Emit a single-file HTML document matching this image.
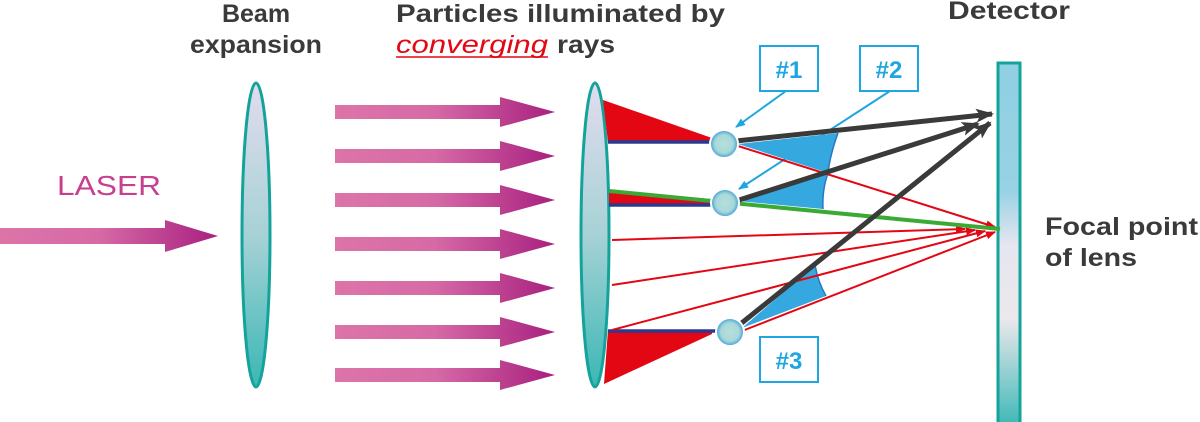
<!DOCTYPE html>
<html><head><meta charset="utf-8"><style>
html,body{margin:0;padding:0;background:#fff;}
svg{display:block;}
text{font-family:"Liberation Sans",sans-serif;font-weight:bold;}
</style></head><body>
<svg width="1200" height="422" viewBox="0 0 1200 422" xmlns="http://www.w3.org/2000/svg">
<defs>
<linearGradient id="pink" x1="0" y1="0" x2="1" y2="0">
<stop offset="0" stop-color="#dc74a8"/><stop offset="0.45" stop-color="#d66aa6"/><stop offset="1" stop-color="#a8207f"/>
</linearGradient>
<linearGradient id="lens" x1="0" y1="0" x2="0" y2="1">
<stop offset="0" stop-color="#e2dcee"/><stop offset="0.5" stop-color="#a6d2d6"/><stop offset="1" stop-color="#3ab7b5"/>
</linearGradient>
<linearGradient id="det" x1="0" y1="0" x2="0" y2="1">
<stop offset="0" stop-color="#8fd0e2"/><stop offset="0.35" stop-color="#98d2e4"/><stop offset="0.5" stop-color="#e6e6f0"/><stop offset="0.7" stop-color="#ece8ec"/><stop offset="1" stop-color="#3ab7b5"/>
</linearGradient>
<radialGradient id="pt" cx="0.5" cy="0.5" r="0.5">
<stop offset="0" stop-color="#b5e0dc"/><stop offset="0.65" stop-color="#a8d8d8"/><stop offset="1" stop-color="#3aa0dc"/>
</radialGradient>
<marker id="ar" markerWidth="10" markerHeight="8" refX="9" refY="4" orient="auto" markerUnits="userSpaceOnUse"><path d="M0,0 L10,4 L0,8 Z" fill="#e30613"/></marker>
<marker id="ag" markerWidth="18" markerHeight="14" refX="16" refY="7" orient="auto" markerUnits="userSpaceOnUse"><path d="M0,0 L18,7 L0,14 L4,7 Z" fill="#3a3a3a"/></marker>
<marker id="ab" markerWidth="10" markerHeight="8" refX="9" refY="4" orient="auto" markerUnits="userSpaceOnUse"><path d="M0,0 L10,4 L0,8 Z" fill="#1ea6e0"/></marker>
</defs>

<!-- titles -->
<text x="256" y="22" font-size="25" fill="#3a3a3a" text-anchor="middle">Beam</text>
<text x="256" y="53" font-size="25" fill="#3a3a3a" text-anchor="middle" textLength="132" lengthAdjust="spacingAndGlyphs">expansion</text>
<text x="396" y="22" font-size="25" fill="#3a3a3a" textLength="329" lengthAdjust="spacingAndGlyphs">Particles illuminated by</text>
<text x="396" y="53" font-size="25" fill="#e30613" font-style="italic" textLength="152" lengthAdjust="spacingAndGlyphs" style="font-weight:normal">converging</text>
<line x1="396" y1="57" x2="548" y2="57" stroke="#e30613" stroke-width="1.5"/>
<text x="557" y="53" font-size="25" fill="#3a3a3a" textLength="58" lengthAdjust="spacingAndGlyphs">rays</text>
<text x="948" y="19" font-size="25" fill="#3a3a3a" textLength="122" lengthAdjust="spacingAndGlyphs">Detector</text>
<text x="1045" y="235" font-size="25" fill="#3a3a3a" textLength="153" lengthAdjust="spacingAndGlyphs">Focal point</text>
<text x="1045" y="266" font-size="25" fill="#3a3a3a" textLength="92" lengthAdjust="spacingAndGlyphs">of lens</text>
<text x="57" y="195" font-size="28" fill="#c83f8f" textLength="104" lengthAdjust="spacingAndGlyphs" style="font-weight:normal">LASER</text>

<!-- laser arrow -->
<polygon points="0,228 165,228 165,220 218,236 165,252 165,244 0,244" fill="url(#pink)"/>
<g fill="url(#pink)">
<polygon points="335,105 500,105 500,97 555,112 500,127 500,119 335,119"/>
<polygon points="335,149 500,149 500,141 555,156 500,171 500,163 335,163"/>
<polygon points="335,193 500,193 500,185 555,200 500,215 500,207 335,207"/>
<polygon points="335,237 500,237 500,229 555,244 500,259 500,251 335,251"/>
<polygon points="335,281 500,281 500,273 555,288 500,303 500,295 335,295"/>
<polygon points="335,325 500,325 500,317 555,332 500,347 500,339 335,339"/>
<polygon points="335,368 500,368 500,360 555,375 500,390 500,382 335,382"/>
</g>

<!-- lenses -->
<ellipse cx="256" cy="235" rx="14" ry="152" fill="url(#lens)" stroke="#13a39a" stroke-width="3"/>
<ellipse cx="595" cy="235" rx="14" ry="152" fill="url(#lens)" stroke="#13a39a" stroke-width="3"/>

<!-- detector -->
<rect x="998" y="63" width="22" height="365" fill="url(#det)" stroke="#13a39a" stroke-width="3"/>

<!-- red cones -->
<polygon points="603,100 712,138 712,142 608,142" fill="#e30613"/>
<line x1="608" y1="142" x2="712" y2="142" stroke="#2b3990" stroke-width="3.5"/>
<polygon points="609,192 712,199 712,205 609,205" fill="#e30613"/>
<line x1="609" y1="205" x2="712" y2="205" stroke="#2b3990" stroke-width="3.5"/>
<polygon points="604,384 712,334 712,330 608,330" fill="#e30613"/>
<line x1="608" y1="331" x2="716" y2="331" stroke="#2b3990" stroke-width="3.5"/>

<!-- leader lines (under wedges) -->
<g stroke="#1ea6e0" stroke-width="2" fill="none">
<line x1="786" y1="91" x2="736" y2="127" marker-end="url(#ab)"/>
<line x1="890" y1="91" x2="739" y2="189" marker-end="url(#ab)"/>
</g>

<!-- blue wedges -->
<path d="M738,144 L838,133 Q832,152 828,173 Z" fill="#36a8e0"/>
<path d="M738,201 L828,172 Q822,190 823,209 Z" fill="#36a8e0"/>
<path d="M838,133 Q830,155 828,173 Q822,190 823,209" fill="none" stroke="#2b78c0" stroke-width="1.5"/>
<path d="M742,328 L815,265 Q818,282 826,296 Z" fill="#36a8e0"/>
<path d="M815,265 Q818,282 826,296" fill="none" stroke="#2b78c0" stroke-width="1.5"/>

<!-- red rays -->
<g stroke="#e30613" stroke-width="2" fill="none">
<line x1="738" y1="146" x2="995" y2="227" marker-end="url(#ar)"/>
<line x1="612" y1="240" x2="965" y2="229" marker-end="url(#ar)"/>
<line x1="612" y1="285" x2="975" y2="230" marker-end="url(#ar)"/>
<line x1="612" y1="330" x2="985" y2="231" marker-end="url(#ar)"/>
<line x1="742" y1="331" x2="995" y2="232" marker-end="url(#ar)"/>
</g>
<line x1="609" y1="191" x2="1000" y2="229" stroke="#3aaa35" stroke-width="4"/>

<!-- gray arrows -->
<g stroke="#3a3a3a" stroke-width="5" fill="none">
<line x1="736" y1="141" x2="992" y2="114" marker-end="url(#ag)"/>
<line x1="736" y1="201" x2="978" y2="124" marker-end="url(#ag)"/>
<line x1="738" y1="326" x2="990" y2="123" marker-end="url(#ag)"/>
</g>

<!-- particles -->
<circle cx="724" cy="144" r="14" fill="url(#pt)" stroke="#fff" stroke-width="2"/>
<circle cx="725" cy="203" r="14" fill="url(#pt)" stroke="#fff" stroke-width="2"/>
<circle cx="730" cy="332" r="14" fill="url(#pt)" stroke="#fff" stroke-width="2"/>

<!-- label boxes -->
<g stroke="#1ea6e0" stroke-width="2" fill="#fff">
<rect x="760" y="46" width="58" height="45"/>
<rect x="860" y="46" width="58" height="45"/>
<rect x="760" y="337" width="58" height="45"/>
</g>
<g font-size="24" fill="#1ea6e0" text-anchor="middle">
<text x="789" y="78">#1</text>
<text x="889" y="78">#2</text>
<text x="789" y="369">#3</text>
</g>
</svg>
</body></html>
